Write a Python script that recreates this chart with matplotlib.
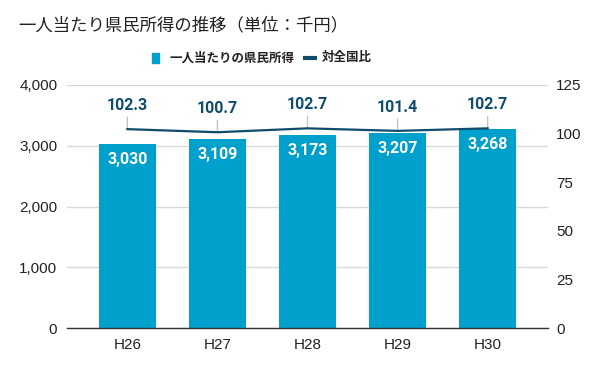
import matplotlib
matplotlib.use("Agg")
import matplotlib.pyplot as plt
from matplotlib.patches import Rectangle
from matplotlib.lines import Line2D

categories = ["H26", "H27", "H28", "H29", "H30"]
income = [3030, 3109, 3173, 3207, 3268]
ratio = [102.3, 100.7, 102.7, 101.4, 102.7]
left_ticks = [0, 1000, 2000, 3000, 4000]
right_ticks = [0, 25, 50, 75, 100, 125]

title = "一人当たり県民所得の推移（単位：千円）"
legend_bar = "一人当たりの県民所得"
legend_line = "対全国比"

BAR = "#00a0cc"
LINE = "#0f4c6e"
CJK = ["Noto Sans CJK JP", "DejaVu Sans"]
ARIAL = ["Liberation Sans", "DejaVu Sans"]

fig = plt.figure(figsize=(6.02, 3.72), dpi=100)
ax = fig.add_axes([67/602, 1-328/372, 481/602, 243/372])
ax2 = ax.twinx()

x = list(range(len(categories)))
bars = ax.bar(x, income, width=0.64, color=BAR, zorder=2)
ax.set_xlim(-0.67, 4.67)
ax.set_ylim(0, 4000)
ax.set_yticks(left_ticks)
ax.set_yticklabels([f"{v:,}" for v in left_ticks], fontfamily=ARIAL, fontsize=11, color="#222222")
ax.set_xticks(x)
ax.set_xticklabels(categories, fontfamily=ARIAL, fontsize=11, color="#222222")
ax.grid(axis="y", color="#d9d9d9", linewidth=1, zorder=0)
ax.set_axisbelow(True)
for s in ["top", "right", "left"]:
    ax.spines[s].set_visible(False)
ax.spines["bottom"].set_color("#333333")
ax.spines["bottom"].set_linewidth(1)
ax.tick_params(axis="y", length=0, pad=7)
ax.tick_params(axis="x", length=0, pad=7)

for xi, v in zip(x, income):
    ax.annotate(f"{v:,}", (xi, v), xytext=(0, -11), textcoords="offset points",
                ha="center", va="center", color="white", fontsize=11.5,
                fontweight="bold", fontfamily=["Roboto", "DejaVu Sans"], zorder=5)

ax2.set_ylim(0, 125)
ax2.set_yticks(right_ticks)
ax2.set_yticklabels([str(v) for v in right_ticks], fontfamily=ARIAL, fontsize=11, color="#222222")
ax2.tick_params(axis="y", length=0, pad=6)
for s in ["top", "right", "left", "bottom"]:
    ax2.spines[s].set_visible(False)
ax2.plot(x, ratio, color=LINE, linewidth=1.6, zorder=4)
for xi, v in zip(x, ratio):
    ax2.annotate(f"{v:.1f}", (xi, v), xytext=(0, 17), textcoords="offset points",
                 ha="center", va="center", color=LINE, fontsize=11.5,
                 fontweight="bold", fontfamily=["Roboto", "DejaVu Sans"],
                 arrowprops=dict(arrowstyle="-", color="#c4c4c4", lw=1.0,
                                 shrinkA=1, shrinkB=0))

fig.text(18/602, 1-25/372, title, fontfamily=CJK, fontsize=12.5, color="#222222",
         ha="left", va="center")

# legend
ly = 1-58/372
fig.patches.append(Rectangle((152/602, ly-5/372), 7/602, 10/372, transform=fig.transFigure,
                             color=BAR, figure=fig))
fig.text(169/602, ly, legend_bar, fontfamily=CJK, fontsize=9, fontweight="bold",
         color="#222222", ha="left", va="center")
fig.lines.append(Line2D([305/602, 315/602], [ly, ly], transform=fig.transFigure,
                        color=LINE, linewidth=3, figure=fig))
fig.text(322/602, ly, legend_line, fontfamily=CJK, fontsize=9, fontweight="bold",
         color="#222222", ha="left", va="center")

fig.savefig("out.png", dpi=100)
